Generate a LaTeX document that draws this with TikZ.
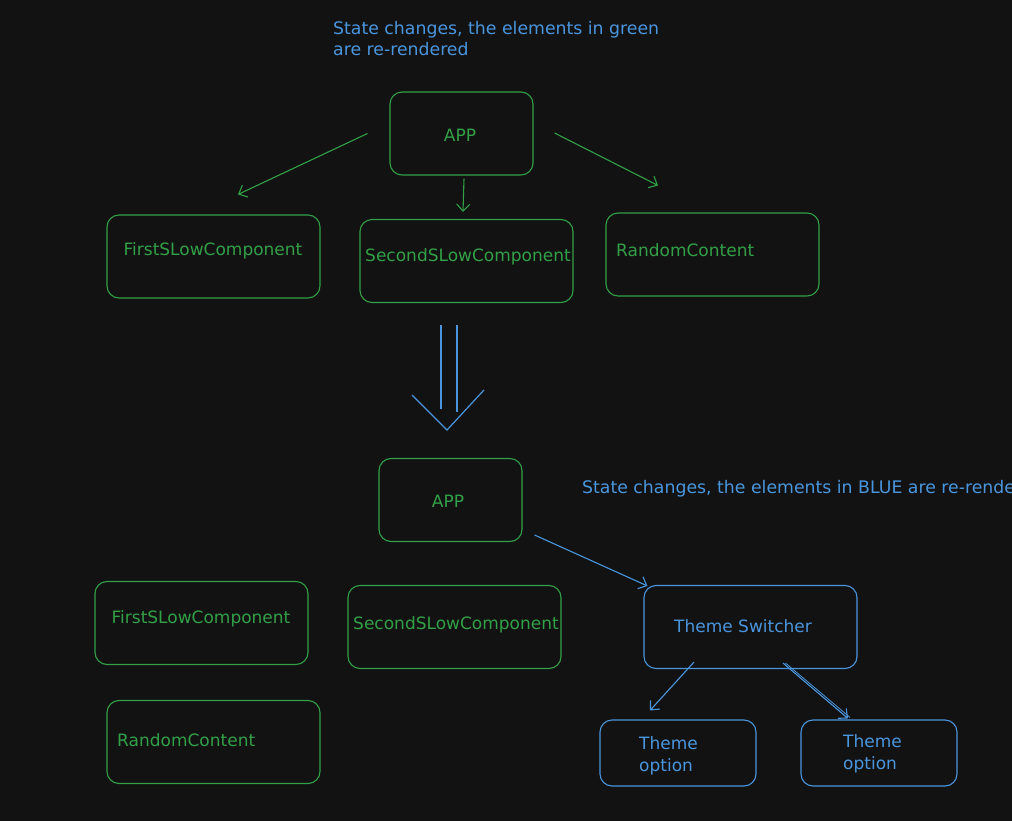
\documentclass[tikz,border=0pt]{standalone}
\usepackage{fontspec}
\setmainfont{DejaVu Sans}
\usetikzlibrary{arrows.meta,calc}
\definecolor{bg}{RGB}{18,18,18}
\definecolor{grn}{RGB}{50,160,70}
\definecolor{blu}{RGB}{74,150,222}
\tikzset{
  box/.style={draw, rounded corners=12pt, line width=1.1pt, minimum width=213pt, minimum height=83pt, inner sep=0pt},
  gbox/.style={box, draw=grn},
  bbox/.style={box, draw=blu},
  lbl/.style={font=\fontsize{17}{21}\selectfont, inner sep=0pt},
  gtxt/.style={lbl, text=grn},
  btxt/.style={lbl, text=blu},
  note/.style={btxt, font=\fontsize{17.3}{21}\selectfont},
  tip/.style={-{Straight Barb[length=7pt,width=13pt,line width=1.1pt]}, line width=1.1pt},
  garrow/.style={tip, draw=grn},
  barrow/.style={tip, draw=blu},
}
\begin{document}
\begin{tikzpicture}[x=1pt,y=-1pt]
\fill[bg] (0,0) rectangle (1012,821);
\useasboundingbox (0,0) rectangle (1012,821);
\clip (0,0) rectangle (1012,821);

% notes
\node[note, anchor=north west, align=left] (note1) at (333,21) {State changes, the elements in green\\are re-rendered};
\node[note, anchor=west] (note2) at (582,489) {State changes, the elements in BLUE are re-rendered};

% top section
\node[gbox, minimum width=143pt] (app1) at (461.5,133.5) {};
\node[gtxt] (app1t) at (460,135) {APP};
\node[gbox] (first1) at (213.5,256.5) {};
\node[gtxt] (first1t) at (213,251) {FirstSLowComponent};
\node[gbox] (second1) at (466.5,261) {};
\node[gtxt] (second1t) at (468,257) {SecondSLowComponent};
\node[gbox] (random1) at (712.5,254.5) {};
\node[gtxt, anchor=west] (random1t) at (616,250) {RandomContent};

\draw[garrow] ($(app1.west)+(-22,0)$) -- ($(first1.north)+(24.5,-20)$);
\draw[garrow] ($(app1.south)+(2.5,3)$) -- ($(second1.north)+(-3.5,-7)$);
\draw[garrow] ($(app1.east)+(21,-0.5)$) -- ($(random1.north)+(-54.5,-27)$);

% big double arrow
\draw[blu, line width=1.2pt] (441,325) -- (441,409);
\draw[blu, line width=1.2pt] (457,325) -- (457,412);
\draw[blu, line width=1.2pt] (412,395) -- (447,430) -- (484,390);

% bottom section
\node[gbox, minimum width=143pt] (app2) at (450.5,500) {};
\node[gtxt] (app2t) at (448,501) {APP};
\node[gbox] (first2) at (201.5,623) {};
\node[gtxt] (first2t) at (201,619) {FirstSLowComponent};
\node[gbox] (second2) at (454.5,627) {};
\node[gtxt] (second2t) at (456,625) {SecondSLowComponent};
\node[gbox] (random2) at (213.5,742) {};
\node[gtxt, anchor=west] (random2t) at (117,740) {RandomContent};

\node[bbox] (theme) at (750.5,627) {};
\node[btxt, anchor=west] (themet) at (674,626) {Theme Switcher};
\node[bbox, minimum width=156pt, minimum height=66pt] (opt1) at (678,753) {};
\node[btxt, anchor=west, align=left, font=\fontsize{17}{22}\selectfont] (opt1t) at (639,756) {Theme\\option};
\node[bbox, minimum width=156pt, minimum height=66pt] (opt2) at (879,753) {};
\node[btxt, anchor=west, align=left, font=\fontsize{17}{22}\selectfont] (opt2t) at (843,754) {Theme\\option};

\draw[barrow] ($(app2.east)+(12,35)$) -- ($(theme.north west)+(4,1)$);
\draw[barrow] ($(theme.south)+(-56.5,-7)$) -- ($(opt1.north)+(-28,-9)$);
\draw[barrow] ($(theme.south)+(32.5,-6)$) -- ($(opt2.north)+(-31,-1)$);
\draw[blu, line width=0.8pt] ($(theme.south)+(35,-6)$) -- ($(opt2.north)+(-29,-2)$);
\end{tikzpicture}
\end{document}
